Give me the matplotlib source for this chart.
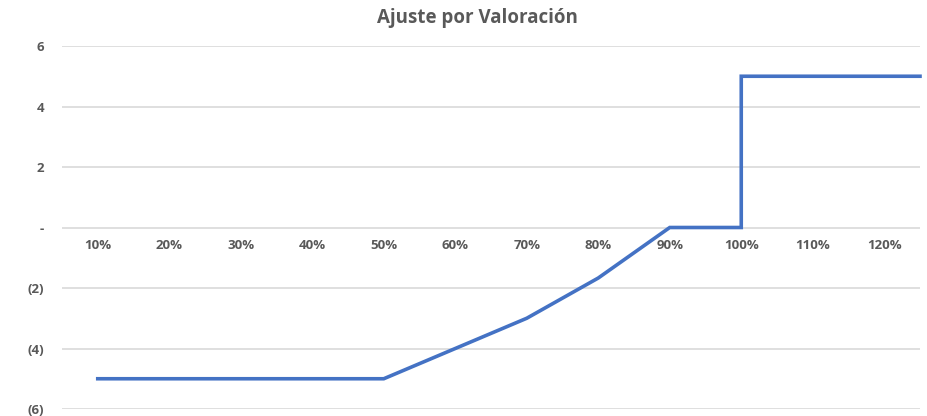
import matplotlib
matplotlib.use("Agg")
import matplotlib.pyplot as plt

# Data
x_vals = [0.10, 0.20, 0.30, 0.40, 0.50, 0.60, 0.70, 0.80, 0.90, 1.00, 1.00, 1.25]
y_vals = [-5, -5, -5, -5, -5, -4, -3, -1.67, 0, 0, 5, 5]
x_ticks = [0.10, 0.20, 0.30, 0.40, 0.50, 0.60, 0.70, 0.80, 0.90, 1.00, 1.10, 1.20]
x_labels = ["10%", "20%", "30%", "40%", "50%", "60%", "70%", "80%", "90%", "100%", "110%", "120%"]
y_ticks = [6, 4, 2, 0, -2, -4, -6]
y_labels = ["6", "4", "2", "-", "(2)", "(4)", "(6)"]
title = "Ajuste por Valoración"

plt.rcParams['font.family'] = ['Open Sans', 'DejaVu Sans']
gray = "#595959"

fig = plt.figure(figsize=(9.28, 4.16), dpi=100)
ax = fig.add_axes([62/928, 7/416, (920-62)/928, (409-46)/416])

ax.plot(x_vals, y_vals, color="#4472C4", lw=2.6, solid_joinstyle='miter', zorder=3, clip_on=False)

ax.set_xlim(0.05, 1.25)
ax.set_ylim(-6, 6)
ax.spines['bottom'].set_position(('data', 0))
for s in ['top', 'right', 'left', 'bottom']:
    ax.spines[s].set_visible(False)
ax.set_yticks(y_ticks)
ax.set_yticklabels(y_labels)
ax.set_xticks(x_ticks)
ax.set_xticklabels(x_labels)
ax.tick_params(axis='y', length=0, pad=13)
ax.tick_params(axis='x', length=0, pad=8)
for lab in ax.get_xticklabels() + ax.get_yticklabels():
    lab.set_fontweight('bold')
    lab.set_color(gray)
    lab.set_fontsize(9.5)
ax.grid(axis='y', color="#d9d9d9", lw=1.2, zorder=0)
ax.set_axisbelow(True)

fig.text(477/928, 1 - 18/416, title, ha='center', va='center', fontsize=13.5, fontweight='bold', color=gray)

fig.savefig("out.png", dpi=100)
